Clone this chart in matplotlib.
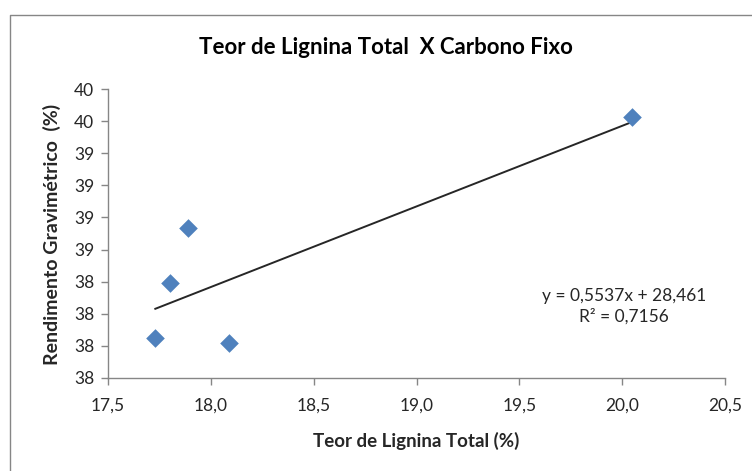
import matplotlib
matplotlib.use("Agg")
import matplotlib.pyplot as plt
from matplotlib.lines import Line2D
import numpy as np

# Data
lignina = [17.73, 17.80, 17.89, 18.09, 20.05]
rendimento = [37.81, 38.24, 38.67, 37.77, 39.53]
x_ticks = [17.5, 18.0, 18.5, 19.0, 19.5, 20.0, 20.5]
x_tick_labels = ["17,5", "18,0", "18,5", "19,0", "19,5", "20,0", "20,5"]
y_ticks = [37.5, 37.75, 38.0, 38.25, 38.5, 38.75, 39.0, 39.25, 39.5, 39.75]
y_tick_labels = ["38", "38", "38", "38", "39", "39", "39", "39", "40", "40"]
title = "Teor de Lignina Total  X Carbono Fixo"
xlabel = "Teor de Lignina Total (%)"
ylabel = "Rendimento Gravimétrico  (%)"
eq_text = "y = 0,5537x + 28,461\nR² = 0,7156"

plt.rcParams['font.family'] = ['Lato', 'DejaVu Sans']

fig = plt.figure(figsize=(7.52, 4.71), dpi=100)
ax = fig.add_axes([108/752, 1 - 378/471, (725-108)/752, (378-89)/471])

ax.scatter(lignina, rendimento, marker='D', s=90, color='#4F81BD', zorder=3, linewidths=0)

coef = np.polyfit(lignina, rendimento, 1)
xl = np.array([min(lignina), max(lignina)])
ax.plot(xl, np.polyval(coef, xl), color='#262626', lw=1.4, zorder=2)

ax.set_xlim(17.5, 20.5)
ax.set_ylim(37.5, 39.75)
ax.set_xticks(x_ticks)
ax.set_xticklabels(x_tick_labels)
ax.set_yticks(y_ticks)
ax.set_yticklabels(y_tick_labels)

for s in ['top', 'right']:
    ax.spines[s].set_visible(False)
for s in ['left', 'bottom']:
    ax.spines[s].set_color('#868686')
    ax.spines[s].set_linewidth(1.0)
ax.tick_params(axis='both', colors='#868686', length=5, width=1.0, labelcolor='#262626', labelsize=12.5)
ax.tick_params(axis='x', pad=9)
ax.tick_params(axis='y', pad=5)

fig.text(386/752, 1 - 48/471, title, ha='center', va='center', fontsize=16, fontweight='bold', color='#000000')
fig.text(416/752, 1 - 441/471, xlabel, ha='center', va='center', fontsize=13.5, fontweight='bold', color='#262626')
fig.text(52/752, 1 - 234/471, ylabel, ha='center', va='center', rotation=90, fontsize=14, fontweight='bold', color='#262626')
ax.text(0.836, 0.249, eq_text, transform=ax.transAxes, ha='center', va='center', fontsize=12.5, color='#262626', linespacing=1.35)

# chart border
fig.add_artist(Line2D([10/752, 10/752, 1.0], [0.0, 1 - 15/471, 1 - 15/471], transform=fig.transFigure, color='#868686', lw=1.0))

fig.savefig('out.png', dpi=100)
